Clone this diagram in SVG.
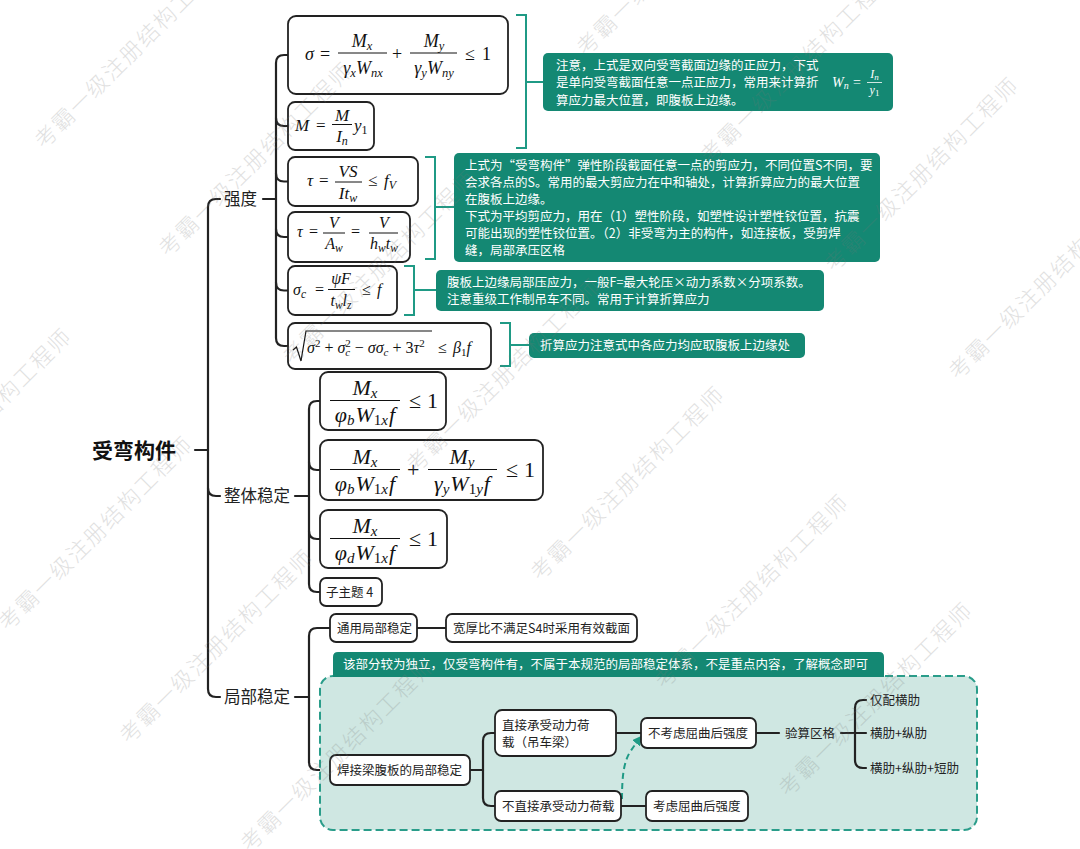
<svg xmlns="http://www.w3.org/2000/svg" width="1080" height="849" viewBox="0 0 1080 849">
<defs>
<style>
.box{fill:#fff;stroke:#222;stroke-width:1.8}
.note{fill:#148873}
.ln{fill:none;stroke:#222;stroke-width:2.2;stroke-linecap:round}
.tl{fill:none;stroke:#1f9a85;stroke-width:2}
.t{font-family:"Noto Sans CJK SC","Noto Sans",sans-serif;font-size:12.5px;fill:#222}
.nt{font-family:"Noto Sans CJK SC","Noto Sans",sans-serif;font-size:12.5px;fill:#fff}
.l1{font-family:"Noto Sans CJK SC","Noto Sans",sans-serif;font-size:16.5px;fill:#222}
.m{font-family:"Liberation Serif","Times New Roman",serif;font-style:italic;fill:#111}
.r{font-style:normal}
.bar{stroke:#111;stroke-width:1}
.wm{font-family:"Noto Sans CJK SC",sans-serif;font-weight:300;font-size:22px;letter-spacing:2px;fill:#777;opacity:0.22}
</style>
<marker id="ah" viewBox="0 0 10 10" refX="8" refY="5" markerWidth="5" markerHeight="5" orient="auto"><path d="M0,0 L10,5 L0,10 z" fill="#1f9a85"/></marker>
</defs>
<rect width="1080" height="849" fill="#fff"/>

<g id="connectors">
<path class="ln" d="M195 450 H208"/>
<path class="ln" d="M220 199 H216 Q208 199 208 207 V689 Q208 697 216 697 H220"/>
<path class="ln" d="M208 488 Q208 496 216 496 H220"/>
<path class="ln" d="M263 199 H276"/>
<path class="ln" d="M288 55 H284 Q276 55 276 63 V338 Q276 346 284 346 H288"/>
<path class="ln" d="M276 118 Q276 126 284 126 H288"/>
<path class="ln" d="M276 173.5 Q276 181.5 284 181.5 H288"/>
<path class="ln" d="M276 229 Q276 237 284 237 H288"/>
<path class="ln" d="M276 282.5 Q276 290.5 284 290.5 H288"/>
<path class="ln" d="M295 496 H309"/>
<path class="ln" d="M320 401 H317 Q309 401 309 409 V584 Q309 592 317 592 H320"/>
<path class="ln" d="M309 462 Q309 470 317 470 H320"/>
<path class="ln" d="M309 531 Q309 539 317 539 H320"/>
<path class="ln" d="M295 697 H309"/>
<path class="ln" d="M330 628 H317 Q309 628 309 636 V762 Q309 770 317 770 H330"/>
<path class="ln" d="M417 628 H446"/>
<path class="tl" d="M516 15 H526 V148 H516 M526 82 H543"/>
<path class="tl" d="M425 157 H435 V259 H425 M435 207 H454"/>
<path class="tl" d="M404 266 H414 V315 H404 M414 290 H436"/>
<path class="tl" d="M500 323 H510 V366 H500 M510 345 H529"/>
</g>

<g id="root"><text x="92" y="458" font-family="Noto Sans CJK SC,sans-serif" font-size="21" font-weight="bold" fill="#111">受弯构件</text></g>
<g id="n-strength"><text class="l1" x="224" y="205">强度</text></g>
<g id="n-global"><text class="l1" x="224" y="502">整体稳定</text></g>
<g id="n-local"><text class="l1" x="224" y="703">局部稳定</text></g>

<g id="f-sigma">
<rect class="box" x="288" y="16" width="220" height="78" rx="8"/>
<text class="m" font-size="18" x="305" y="60">σ</text>
<text class="m r" font-size="18" x="320" y="60">=</text>
<line class="bar" x1="338" y1="53" x2="387" y2="53"/>
<text class="m" font-size="18" x="362" y="47" text-anchor="middle">M<tspan font-size="12.5" dy="3">x</tspan></text>
<text class="m" font-size="18" x="363" y="74" text-anchor="middle">γ<tspan font-size="12.5" dy="3">x</tspan><tspan dy="-3">W</tspan><tspan font-size="12.5" dy="3">nx</tspan></text>
<text class="m r" font-size="18" x="392" y="60">+</text>
<line class="bar" x1="410" y1="53" x2="457" y2="53"/>
<text class="m" font-size="18" x="434" y="47" text-anchor="middle">M<tspan font-size="12.5" dy="3">y</tspan></text>
<text class="m" font-size="18" x="434" y="74" text-anchor="middle">γ<tspan font-size="12.5" dy="3">y</tspan><tspan dy="-3">W</tspan><tspan font-size="12.5" dy="3">ny</tspan></text>
<text class="m r" font-size="18" x="465" y="60">≤</text>
<text class="m r" font-size="18" x="482" y="60">1</text>
</g>

<g id="f-M">
<rect class="box" x="288" y="102" width="86" height="48" rx="7"/>
<text class="m" font-size="17" x="295" y="131">M</text>
<text class="m r" font-size="17" x="316" y="131">=</text>
<line class="bar" x1="332" y1="124.5" x2="352" y2="124.5"/>
<text class="m" font-size="17" x="342" y="121" text-anchor="middle">M</text>
<text class="m" font-size="17" x="342" y="142" text-anchor="middle">I<tspan font-size="12" dy="3">n</tspan></text>
<text class="m" font-size="17" x="354" y="131">y<tspan class="r" font-size="12" dy="3">1</tspan></text>
</g>

<g id="f-tau1">
<rect class="box" x="288" y="157" width="130" height="49" rx="7"/>
<text class="m" font-size="17" x="307" y="186">τ</text>
<text class="m r" font-size="17" x="319" y="186">=</text>
<line class="bar" x1="335" y1="182" x2="362" y2="182"/>
<text class="m" font-size="17" x="348" y="177" text-anchor="middle">VS</text>
<text class="m" font-size="17" x="348" y="199" text-anchor="middle">It<tspan font-size="12" dy="3">w</tspan></text>
<text class="m r" font-size="17" x="368" y="186">≤</text>
<text class="m" font-size="17" x="384" y="186">f<tspan font-size="12" dy="3">V</tspan></text>
</g>

<g id="f-tau2">
<rect class="box" x="288" y="212" width="122" height="50" rx="7"/>
<text class="m" font-size="16" x="297" y="237">τ</text>
<text class="m r" font-size="16" x="309" y="237">=</text>
<line class="bar" x1="323" y1="233" x2="345" y2="233"/>
<text class="m" font-size="16" x="334" y="228" text-anchor="middle">V</text>
<text class="m" font-size="16" x="334" y="249" text-anchor="middle">A<tspan font-size="11.5" dy="3">w</tspan></text>
<text class="m r" font-size="16" x="351" y="237">=</text>
<line class="bar" x1="369" y1="233" x2="398" y2="233"/>
<text class="m" font-size="16" x="384" y="228" text-anchor="middle">V</text>
<text class="m" font-size="16" x="384" y="249" text-anchor="middle">h<tspan font-size="11.5" dy="3">w</tspan><tspan dy="-3">t</tspan><tspan font-size="11.5" dy="3">w</tspan></text>
</g>

<g id="f-sigmac">
<rect class="box" x="288" y="266" width="109" height="49" rx="7"/>
<text class="m" font-size="16" x="293" y="295">σ<tspan font-size="11.5" dy="3">c</tspan></text>
<text class="m r" font-size="16" x="315" y="295">=</text>
<line class="bar" x1="328" y1="289.5" x2="355" y2="289.5"/>
<text class="m" font-size="16" x="341" y="284" text-anchor="middle">ψF</text>
<text class="m" font-size="16" x="341" y="306" text-anchor="middle">t<tspan font-size="11.5" dy="3">w</tspan><tspan dy="-3">l</tspan><tspan font-size="11.5" dy="3">z</tspan></text>
<text class="m r" font-size="16" x="362" y="295">≤</text>
<text class="m" font-size="16" x="377" y="295">f</text>
</g>

<g id="f-sqrt">
<rect class="box" x="288" y="323" width="203" height="46" rx="7"/>
<path d="M293 350 L296.5 347 L301 361 L306 331 H432" fill="none" stroke="#111" stroke-width="1.2"/>
<text class="m" font-size="16" x="307" y="353">σ<tspan class="r" font-size="11" dy="-6">2</tspan><tspan class="r" dy="6"> + </tspan>σ<tspan font-size="11" dy="3">c</tspan><tspan class="r" font-size="11" dx="-5" dy="-9">2</tspan><tspan class="r" dy="6"> − </tspan>σσ<tspan font-size="11" dy="3">c</tspan><tspan class="r" dy="-3"> + 3</tspan>τ<tspan class="r" font-size="11" dy="-6">2</tspan></text>
<text class="m r" font-size="16" x="438" y="353">≤</text>
<text class="m" font-size="16" x="453" y="353">β<tspan class="r" font-size="11" dy="3">1</tspan><tspan dy="-3">f</tspan></text>
</g>

<g id="f-stab1">
<rect class="box" x="320" y="372" width="126" height="58" rx="8"/>
<line class="bar" x1="330" y1="400.5" x2="400" y2="400.5"/>
<text class="m" font-size="22" x="365" y="395" text-anchor="middle">M<tspan font-size="15" dy="3">x</tspan></text>
<text class="m" font-size="22" x="365" y="422" text-anchor="middle">φ<tspan font-size="15" dy="3">b</tspan><tspan dx="1" dy="-3">W</tspan><tspan class="r" font-size="15" dy="3">1</tspan><tspan font-size="15">x</tspan><tspan dx="1" dy="-3">f</tspan></text>
<text class="m r" font-size="22" x="409" y="408">≤</text>
<text class="m r" font-size="22" x="427" y="408">1</text>
</g>

<g id="f-stab2">
<rect class="box" x="320" y="440" width="223" height="60" rx="8"/>
<line class="bar" x1="330" y1="469.5" x2="400" y2="469.5"/>
<text class="m" font-size="22" x="365" y="464" text-anchor="middle">M<tspan font-size="15" dy="3">x</tspan></text>
<text class="m" font-size="22" x="365" y="491" text-anchor="middle">φ<tspan font-size="15" dy="3">b</tspan><tspan dx="1" dy="-3">W</tspan><tspan class="r" font-size="15" dy="3">1</tspan><tspan font-size="15">x</tspan><tspan dx="1" dy="-3">f</tspan></text>
<text class="m r" font-size="22" x="407" y="477">+</text>
<line class="bar" x1="428" y1="469.5" x2="497" y2="469.5"/>
<text class="m" font-size="22" x="462" y="464" text-anchor="middle">M<tspan font-size="15" dy="3">y</tspan></text>
<text class="m" font-size="22" x="462" y="491" text-anchor="middle">γ<tspan font-size="15" dy="3">y</tspan><tspan dx="1" dy="-3">W</tspan><tspan class="r" font-size="15" dy="3">1</tspan><tspan font-size="15">y</tspan><tspan dx="1" dy="-3">f</tspan></text>
<text class="m r" font-size="22" x="506" y="477">≤</text>
<text class="m r" font-size="22" x="524" y="477">1</text>
</g>

<g id="f-stab3">
<rect class="box" x="320" y="510" width="127" height="58" rx="8"/>
<line class="bar" x1="330" y1="538.5" x2="400" y2="538.5"/>
<text class="m" font-size="22" x="365" y="533" text-anchor="middle">M<tspan font-size="15" dy="3">x</tspan></text>
<text class="m" font-size="22" x="365" y="560" text-anchor="middle">φ<tspan font-size="15" dy="3">d</tspan><tspan dx="1" dy="-3">W</tspan><tspan class="r" font-size="15" dy="3">1</tspan><tspan font-size="15">x</tspan><tspan dx="1" dy="-3">f</tspan></text>
<text class="m r" font-size="22" x="409" y="546">≤</text>
<text class="m r" font-size="22" x="427" y="546">1</text>
</g>

<g id="n-sub4"><rect class="box" x="320" y="578" width="62" height="28" rx="6"/><text class="t" x="326" y="597">子主题 4</text></g>

<g id="note1">
<rect class="note" x="543" y="53" width="350" height="58" rx="5"/>
<text class="nt" x="556" y="69.5">注意，上式是双向受弯截面边缘的正应力，下式</text>
<text class="nt" x="556" y="87">是单向受弯截面任意一点正应力，常用来计算折</text>
<text class="nt" x="556" y="104.5">算应力最大位置，即腹板上边缘。</text>
<text class="m" font-size="14" x="832" y="87" style="fill:#fff">W<tspan font-size="10" dy="2">n</tspan></text>
<text class="m r" font-size="14" x="853" y="87" style="fill:#fff">=</text>
<line x1="867" y1="82.5" x2="882" y2="82.5" stroke="#fff" stroke-width="0.8"/>
<text class="m" font-size="12" x="874.5" y="78" text-anchor="middle" style="fill:#fff">I<tspan font-size="9" dy="2">n</tspan></text>
<text class="m" font-size="12" x="874.5" y="94" text-anchor="middle" style="fill:#fff">y<tspan class="r" font-size="9" dy="2">1</tspan></text>
</g>

<g id="note2">
<rect class="note" x="454" y="153" width="426" height="109" rx="5"/>
<text class="nt" x="465" y="170">上式为“受弯构件”弹性阶段截面任意一点的剪应力，不同位置S不同，要</text>
<text class="nt" x="465" y="187">会求各点的S。常用的最大剪应力在中和轴处，计算折算应力的最大位置</text>
<text class="nt" x="465" y="204">在腹板上边缘。</text>
<text class="nt" x="465" y="221">下式为平均剪应力，用在（1）塑性阶段，如塑性设计塑性铰位置，抗震</text>
<text class="nt" x="465" y="238">可能出现的塑性铰位置。（2）非受弯为主的构件，如连接板，受剪焊</text>
<text class="nt" x="465" y="255">缝，局部承压区格</text>
</g>

<g id="note3">
<rect class="note" x="436" y="270" width="388" height="41" rx="5"/>
<text class="nt" x="447" y="287">腹板上边缘局部压应力，一般F=最大轮压×动力系数×分项系数。</text>
<text class="nt" x="447" y="304">注意重级工作制吊车不同。常用于计算折算应力</text>
</g>

<g id="note4">
<rect class="note" x="529" y="333" width="276" height="25" rx="5"/>
<text class="nt" x="540" y="350">折算应力注意式中各应力均应取腹板上边缘处</text>
</g>

<g id="n-general"><rect class="box" x="330" y="614" width="87" height="28" rx="6"/><text class="t" x="337" y="633">通用局部稳定</text></g>
<g id="n-width"><rect class="box" x="446" y="614" width="191" height="28" rx="6"/><text class="t" x="453" y="633">宽厚比不满足S4时采用有效截面</text></g>

<g id="region">
<rect x="320" y="676" width="657" height="154" rx="13" fill="#cfe7e2" stroke="#2a9d8a" stroke-width="2" stroke-dasharray="8 4"/>
</g>
<g id="note5">
<path class="note" d="M333 677 V657 Q333 652 338 652 H879 Q884 652 884 657 V677 Z"/>
<text class="nt" x="343" y="669">该部分较为独立，仅受弯构件有，不属于本规范的局部稳定体系，不是重点内容，了解概念即可</text>
</g>

<g id="connectors-inner">
<path class="ln" d="M470 770 H483"/>
<path class="ln" d="M495 733 H491 Q483 733 483 741 V798 Q483 806 491 806 H495"/>
<path class="ln" d="M616 733 H641"/>
<path class="ln" d="M621 806 H646"/>
<path class="ln" d="M756 733 H779"/>
<path class="ln" d="M841 733 H866"/>
<path class="ln" d="M866 700 H863 Q855 700 855 708 V760 Q855 768 863 768 H866"/>
<path d="M622 799 C622 775 624 762 630 752 C634 746 637 742 641 737" fill="none" stroke="#1f9a85" stroke-width="2" stroke-dasharray="6 4" marker-end="url(#ah)"/>
</g>

<g id="n-weld"><rect class="box" x="330" y="755" width="140" height="30" rx="6"/><text class="t" x="337" y="775">焊接梁腹板的局部稳定</text></g>
<g id="n-direct"><rect class="box" x="495" y="710" width="121" height="46" rx="7"/><text class="t" x="502" y="729.5">直接承受动力荷</text><text class="t" x="502" y="746.5">载（吊车梁）</text></g>
<g id="n-indirect"><rect class="box" x="495" y="791" width="126" height="30" rx="6"/><text class="t" x="502" y="811">不直接承受动力荷载</text></g>
<g id="n-nopost"><rect class="box" x="641" y="718" width="115" height="30" rx="6"/><text class="t" x="648" y="738">不考虑屈曲后强度</text></g>
<g id="n-post"><rect class="box" x="646" y="791" width="102" height="30" rx="6"/><text class="t" x="653" y="811">考虑屈曲后强度</text></g>
<g id="n-check"><text class="t" x="785" y="738">验算区格</text></g>
<g id="n-r1"><text class="t" x="870" y="705">仅配横肋</text></g>
<g id="n-r2"><text class="t" x="870" y="738">横肋+纵肋</text></g>
<g id="n-r3"><text class="t" x="870" y="773">横肋+纵肋+短肋</text></g>

<g id="watermark">
<text class="wm" transform="translate(-113,524) rotate(-45)">考霸一级注册结构工程师</text>
<text class="wm" transform="translate(8,632) rotate(-45)">考霸一级注册结构工程师</text>
<text class="wm" transform="translate(129,745) rotate(-45)">考霸一级注册结构工程师</text>
<text class="wm" transform="translate(250,853) rotate(-45)">考霸一级注册结构工程师</text>
<text class="wm" transform="translate(44,150) rotate(-45)">考霸一级注册结构工程师</text>
<text class="wm" transform="translate(168,258) rotate(-45)">考霸一级注册结构工程师</text>
<text class="wm" transform="translate(292,366) rotate(-45)">考霸一级注册结构工程师</text>
<text class="wm" transform="translate(416,474) rotate(-45)">考霸一级注册结构工程师</text>
<text class="wm" transform="translate(540,582) rotate(-45)">考霸一级注册结构工程师</text>
<text class="wm" transform="translate(664,690) rotate(-45)">考霸一级注册结构工程师</text>
<text class="wm" transform="translate(788,798) rotate(-45)">考霸一级注册结构工程师</text>
<text class="wm" transform="translate(586,57) rotate(-45)">考霸一级注册结构工程师</text>
<text class="wm" transform="translate(710,165) rotate(-45)">考霸一级注册结构工程师</text>
<text class="wm" transform="translate(834,273) rotate(-45)">考霸一级注册结构工程师</text>
<text class="wm" transform="translate(958,381) rotate(-45)">考霸一级注册结构工程师</text>
</g>
</svg>
